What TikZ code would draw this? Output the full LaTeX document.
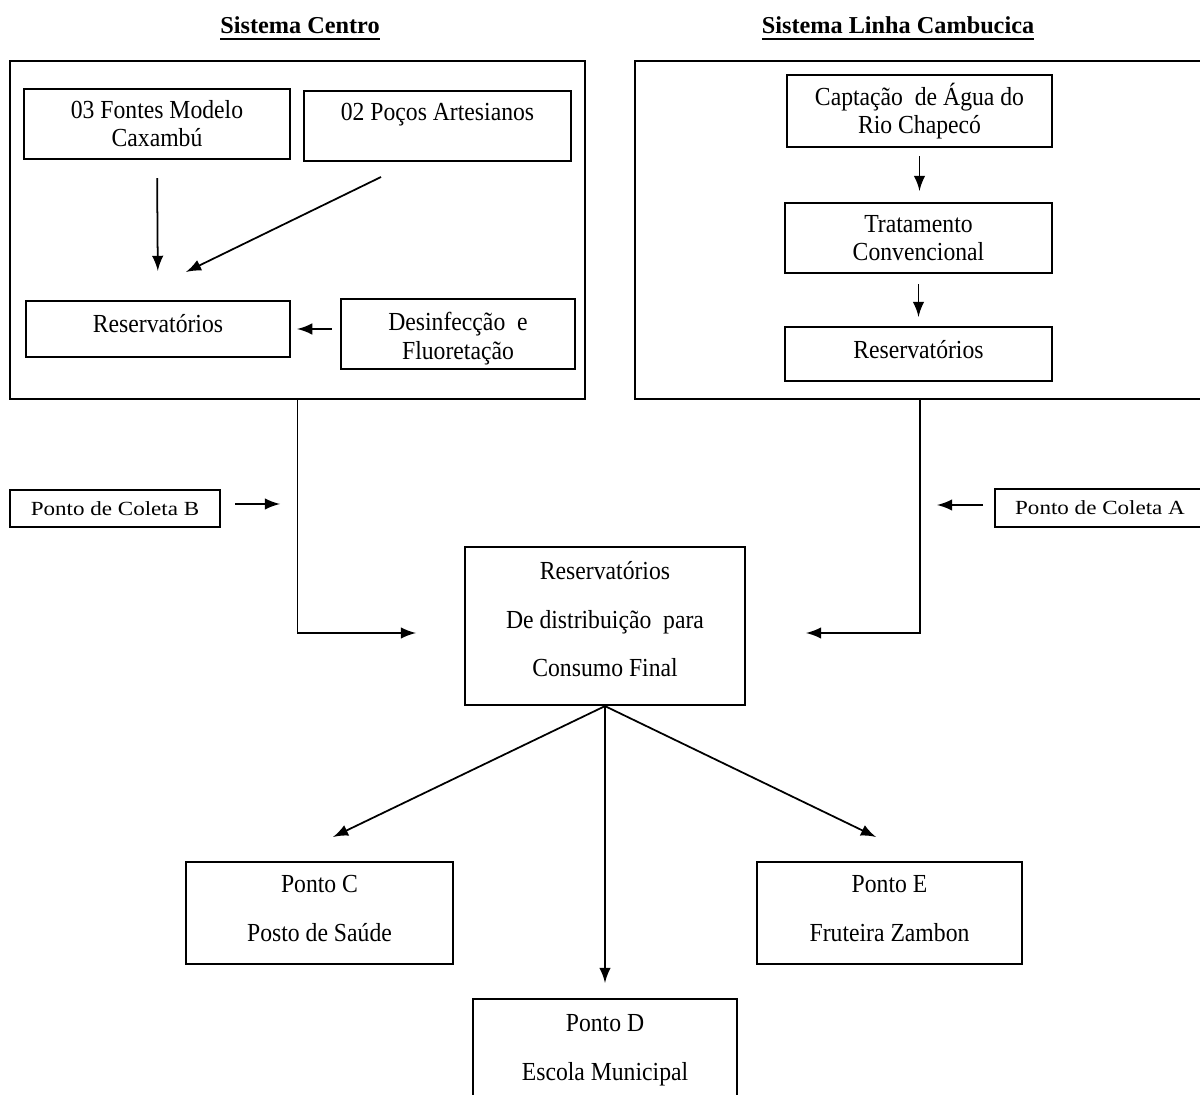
\documentclass[tikz,border=0pt]{standalone}
\usepackage{fontspec}
\setmainfont[FakeStretch=0.91]{Liberation Serif}
\newfontfamily\titlefont{Liberation Serif}
\newfontfamily\coletafont[FakeStretch=1.15]{Liberation Serif}
\usepackage{tikz}
\newcommand\lowstrut[1]{\rule[-#1]{0pt}{#1}}
\newcommand\highstrut[1]{\rule{0pt}{#1}}
\tikzstyle{node:box}=[draw,line width=0.6pt,inner sep=0pt,align=center,font=\fontsize{7.4pt}{8pt}\selectfont]
\tikzstyle{node:system}=[draw,line width=0.6pt,inner sep=0pt]
\tikzstyle{node:coleta}=[node:box,font=\coletafont\fontsize{5.7pt}{8pt}\selectfont]
\tikzstyle{node:title}=[font=\titlefont\bfseries\fontsize{6.9pt}{9pt}\selectfont]
\tikzstyle{draw:connection}=[-latex,line width=0.5pt]

\begin{document}
\begin{tikzpicture}[x=0.01cm,y=-0.01cm]
        \useasboundingbox (0,0) rectangle (1200,1095);

        % Titles
        \node[node:title] (T-centro) at (300,29) {\underline{Sistema Centro}};
        \node[node:title] (T-linha) at (898,29) {\underline{Sistema Linha Cambucica}};

        % Sistema Centro
        \node[node:system,minimum width=5.75cm,minimum height=3.38cm] (centro) at (297.5,230) {};
        \node[node:box,minimum width=2.66cm,minimum height=0.70cm] (fontes) at (157,124) {03 Fontes Modelo\\Caxambú};
        \node[node:box,minimum width=2.67cm,minimum height=0.70cm] (pocos) at (437.5,126) {02 Poços Artesianos\\\mbox{}};
        \node[node:box,minimum width=2.64cm,minimum height=0.56cm] (resC) at (158,329) {Reservatórios\lowstrut{3.4pt}};
        \node[node:box,minimum width=2.34cm,minimum height=0.70cm] (desinf) at (458,334) {\highstrut{7.8pt}Desinfecção\ \ e\\Fluoretação};

        % Sistema Linha Cambucica
        \node[node:system,minimum width=5.70cm,minimum height=3.38cm] (linha) at (920,230) {};
        \node[node:box,minimum width=2.65cm,minimum height=0.72cm] (captacao) at (919.5,111) {Captação\ \ de Água do\\Rio Chapecó};
        \node[node:box,minimum width=2.67cm,minimum height=0.70cm] (tratamento) at (918.5,238) {Tratamento\\Convencional};
        \node[node:box,minimum width=2.67cm,minimum height=0.54cm] (resL) at (918.5,354) {Reservatórios\lowstrut{2.8pt}};

        % Pontos de coleta
        \node[node:coleta,minimum width=2.10cm,minimum height=0.37cm] (coletaB) at (115,508.5) {Ponto de Coleta B};
        \node[node:coleta,minimum width=2.10cm,minimum height=0.38cm] (coletaA) at (1100,508) {Ponto de Coleta A};

        % Distribution and final points
        \node[node:box,minimum width=2.80cm,minimum height=1.58cm] (distrib) at (605,626) {Reservatórios\\[5.9pt]De distribuição\ \ para\\[5.9pt]Consumo Final\lowstrut{4pt}};
        \node[node:box,minimum width=2.67cm,minimum height=1.02cm] (pontoC) at (319.5,913) {Ponto C\\[5.9pt]Posto de Saúde\lowstrut{2.6pt}};
        \node[node:box,minimum width=2.64cm,minimum height=1.02cm] (pontoD) at (605,1050) {Ponto D\\[5.9pt]Escola Municipal};
        \node[node:box,minimum width=2.65cm,minimum height=1.02cm] (pontoE) at (889.5,913) {Ponto E\\[5.9pt]Fruteira Zambon\lowstrut{2.6pt}};

        % free arrow ends
        \coordinate (pocos-out) at (381,177);
        \coordinate (resC-in) at (186,272);
        \coordinate (coletaB-out) at (235,504);
        \coordinate (coletaB-in) at (280,504);
        \coordinate (coletaA-out) at (983,505);
        \coordinate (coletaA-in) at (937,505);
        \coordinate (distrib-inB) at (416,633);
        \coordinate (distrib-inA) at (806,633);
        \coordinate (pontoC-in) at (333,837);
        \coordinate (pontoE-in) at (876,837);

        % connections inside Sistema Centro
        \draw[draw:connection,shorten <=0.18cm,shorten >=0.29cm] (fontes.south) -- (resC.north);
        \draw[draw:connection] (pocos-out) -- (resC-in);
        \draw[draw:connection,shorten <=0.08cm,shorten >=0.06cm] (desinf.west |- resC.east) -- (resC.east);

        % connections inside Sistema Linha Cambucica
        \draw[draw:connection,shorten <=0.08cm,shorten >=0.11cm] (captacao.south) -- (captacao.south |- tratamento.north);
        \draw[draw:connection,shorten <=0.10cm,shorten >=0.09cm] (tratamento.south) -- (tratamento.south |- resL.north);

        % connections to distribution
        \draw[draw:connection] (centro.south) |- (distrib-inB);
        \draw[draw:connection] (linha.south) |- (distrib-inA);
        \draw[draw:connection] (coletaB-out) -- (coletaB-in);
        \draw[draw:connection] (coletaA-out) -- (coletaA-in);

        % connections to final points
        \draw[draw:connection] (distrib.south) -- (pontoC-in);
        \draw[draw:connection,shorten >=0.15cm] (distrib.south) -- (pontoD.north);
        \draw[draw:connection] (distrib.south) -- (pontoE-in);
\end{tikzpicture}
\end{document}
